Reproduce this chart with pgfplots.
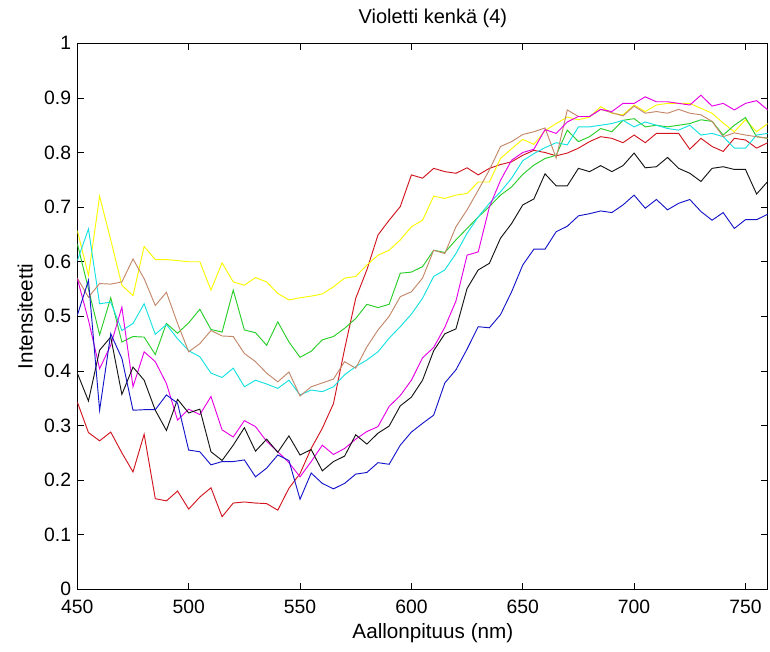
\documentclass[border=0pt]{standalone}
\usepackage{pgfplots}
\usepackage{pgfplotstable}
\pgfplotsset{compat=1.18}
\usepackage{fontspec}
\setmainfont{Liberation Sans}
\definecolor{cred}{RGB}{210,20,30}
\definecolor{cyel}{RGB}{250,250,0}
\definecolor{cgrn}{RGB}{40,205,40}
\definecolor{ccya}{RGB}{20,225,225}
\definecolor{cbrn}{RGB}{195,135,105}
\definecolor{cmag}{RGB}{230,0,230}
\definecolor{cblk}{RGB}{20,20,20}
\definecolor{cblu}{RGB}{20,20,200}
\pgfplotstableread{
x r y g c b m k bl
450 0.343 0.657 0.633 0.602 0.570 0.569 0.396 0.502
455 0.287 0.575 0.550 0.660 0.535 0.493 0.345 0.566
460 0.272 0.720 0.466 0.523 0.560 0.404 0.438 0.328
465 0.288 0.640 0.534 0.526 0.559 0.447 0.462 0.468
470 0.250 0.557 0.453 0.474 0.563 0.517 0.357 0.423
475 0.215 0.538 0.463 0.487 0.605 0.371 0.407 0.328
480 0.284 0.628 0.462 0.523 0.569 0.435 0.383 0.329
485 0.166 0.604 0.430 0.467 0.520 0.417 0.328 0.329
490 0.162 0.604 0.487 0.485 0.544 0.377 0.291 0.356
495 0.180 0.602 0.469 0.459 0.487 0.310 0.348 0.341
500 0.147 0.600 0.488 0.437 0.435 0.330 0.323 0.255
505 0.169 0.600 0.513 0.426 0.450 0.320 0.330 0.252
510 0.186 0.548 0.476 0.396 0.474 0.353 0.252 0.228
515 0.133 0.598 0.471 0.388 0.464 0.292 0.236 0.234
520 0.158 0.563 0.548 0.405 0.463 0.279 0.264 0.234
525 0.160 0.557 0.475 0.371 0.432 0.309 0.296 0.237
530 0.158 0.571 0.470 0.383 0.417 0.298 0.253 0.206
535 0.157 0.563 0.447 0.376 0.396 0.271 0.275 0.222
540 0.145 0.542 0.490 0.368 0.380 0.252 0.251 0.246
545 0.185 0.530 0.453 0.383 0.398 0.232 0.281 0.236
550 0.212 0.534 0.425 0.356 0.354 0.206 0.246 0.165
555 0.258 0.537 0.436 0.365 0.371 0.234 0.256 0.213
560 0.295 0.541 0.457 0.362 0.378 0.264 0.217 0.194
565 0.340 0.554 0.463 0.371 0.385 0.247 0.234 0.184
570 0.440 0.570 0.478 0.393 0.417 0.258 0.244 0.194
575 0.533 0.573 0.496 0.408 0.405 0.275 0.283 0.211
580 0.585 0.594 0.522 0.420 0.444 0.289 0.266 0.214
585 0.649 0.612 0.516 0.435 0.475 0.298 0.286 0.232
590 0.676 0.621 0.522 0.460 0.500 0.335 0.299 0.229
595 0.701 0.640 0.579 0.481 0.536 0.355 0.336 0.264
600 0.759 0.664 0.581 0.504 0.545 0.383 0.352 0.288
605 0.753 0.676 0.591 0.533 0.570 0.424 0.383 0.304
610 0.771 0.720 0.621 0.573 0.621 0.443 0.437 0.319
615 0.765 0.716 0.617 0.585 0.615 0.480 0.468 0.378
620 0.762 0.722 0.640 0.615 0.664 0.528 0.477 0.402
625 0.772 0.725 0.661 0.652 0.695 0.612 0.551 0.440
630 0.759 0.746 0.682 0.682 0.731 0.618 0.585 0.481
635 0.771 0.746 0.701 0.707 0.768 0.700 0.597 0.479
640 0.778 0.789 0.722 0.728 0.811 0.749 0.643 0.503
645 0.783 0.807 0.737 0.753 0.820 0.786 0.670 0.545
650 0.795 0.824 0.760 0.785 0.833 0.800 0.704 0.594
655 0.804 0.815 0.777 0.798 0.838 0.806 0.715 0.623
660 0.800 0.840 0.789 0.809 0.845 0.842 0.761 0.623
665 0.794 0.853 0.795 0.818 0.790 0.835 0.739 0.655
670 0.799 0.865 0.841 0.814 0.878 0.856 0.739 0.665
675 0.808 0.860 0.820 0.847 0.866 0.866 0.771 0.684
680 0.820 0.865 0.829 0.847 0.866 0.866 0.765 0.688
685 0.829 0.884 0.844 0.850 0.879 0.879 0.776 0.693
690 0.826 0.872 0.838 0.853 0.873 0.875 0.765 0.690
695 0.818 0.869 0.859 0.859 0.867 0.890 0.776 0.704
700 0.832 0.887 0.862 0.847 0.885 0.890 0.799 0.722
705 0.818 0.875 0.847 0.856 0.872 0.902 0.772 0.698
710 0.835 0.887 0.850 0.850 0.875 0.893 0.774 0.714
715 0.835 0.890 0.847 0.844 0.872 0.893 0.791 0.695
720 0.835 0.890 0.850 0.841 0.879 0.890 0.771 0.707
725 0.806 0.890 0.853 0.850 0.872 0.887 0.762 0.714
730 0.826 0.881 0.860 0.832 0.869 0.905 0.747 0.692
735 0.811 0.872 0.857 0.835 0.857 0.885 0.771 0.676
740 0.802 0.854 0.832 0.829 0.829 0.890 0.774 0.690
745 0.826 0.838 0.850 0.808 0.836 0.878 0.769 0.661
750 0.823 0.860 0.864 0.808 0.832 0.890 0.769 0.677
755 0.808 0.838 0.829 0.832 0.829 0.895 0.724 0.677
760 0.818 0.853 0.826 0.835 0.826 0.878 0.747 0.687
}\spectra
\begin{document}
\begin{tikzpicture}
\begin{axis}[
  name=ax,
  scale only axis,
  width=517.8pt, height=409.5pt,
  xmin=450, xmax=760, ymin=0, ymax=1,
  xtick={450,500,...,750},
  xticklabels={450,500,550,600,650,700,750},
  ytick={0,0.1,...,1},
  yticklabels={0,0.1,0.2,0.3,0.4,0.5,0.6,0.7,0.8,0.9,1},
  tick align=inside,
  major tick length=5pt,
  tick style={black, line width=0.6pt},
  axis line style={black, line width=0.6pt},
  ticklabel style={font=\fontsize{14.5}{16}\selectfont},
  xticklabel style={yshift=-4.5pt},
  yticklabel style={xshift=-1.2pt},
  title={Violetti kenkä (4)},
  every axis title shift=0pt,
  title style={at={(axis description cs:0.515,1.0464)}, anchor=center, yshift=0pt, font=\fontsize{15}{17}\selectfont},
  xlabel={Aallonpituus (nm)},
  ylabel={Intensiteetti},
  every axis x label/.style={at={(axis description cs:0.515,-0.0801)}, anchor=center, font=\fontsize{15.5}{17}\selectfont},
  every axis y label/.style={at={(axis description cs:-0.0753,0.5)}, rotate=90, anchor=center, font=\fontsize{15.5}{17}\selectfont},
  every axis plot/.append style={line width=0.7pt, mark=none},
]
\addplot[cred] table[x=x,y=r] {\spectra};
\addplot[cyel] table[x=x,y=y] {\spectra};
\addplot[cgrn] table[x=x,y=g] {\spectra};
\addplot[ccya] table[x=x,y=c] {\spectra};
\addplot[cbrn] table[x=x,y=b] {\spectra};
\addplot[cmag] table[x=x,y=m] {\spectra};
\addplot[cblk] table[x=x,y=k] {\spectra};
\addplot[cblu] table[x=x,y=bl] {\spectra};
\end{axis}
\pgfresetboundingbox
\path ([xshift=-58pt,yshift=-46.3pt]ax.south west) rectangle ([xshift=1.7pt,yshift=32.5pt]ax.north east);
\end{tikzpicture}
\end{document}
